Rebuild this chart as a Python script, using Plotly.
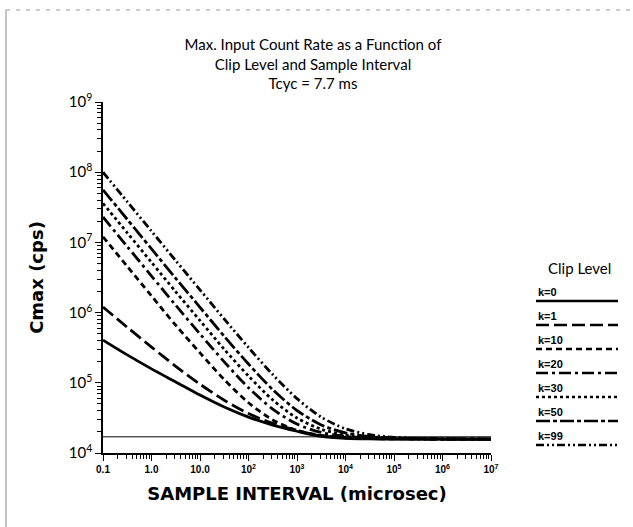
import plotly.graph_objects as go

# Sample interval (microsec)
sample_interval = [0.1, 0.316, 1.0, 3.16, 10.0, 31.6, 100.0, 316.0, 1000.0, 3162.0,
                   1.0e4, 3.162e4, 1.0e5, 1.0e6, 1.0e7]

# Cmax (cps) per clip level
k0 = [4.06e5, 2.5e5, 1.58e5, 1.03e5, 6.7e4, 4.52e4, 3.25e4, 2.5e4, 2.04e4, 1.72e4,
      1.62e4, 1.59e4, 1.58e4, 1.58e4, 1.58e4]
k1 = [1.2e6, 6.18e5, 3.23e5, 1.72e5, 9.56e4, 5.65e4, 3.65e4, 2.64e4, 2.1e4, 1.76e4,
      1.65e4, 1.61e4, 1.59e4, 1.58e4, 1.58e4]
k10 = [1.2e7, 4.56e6, 1.73e6, 6.6e5, 2.67e5, 1.11e5, 5.2e4, 2.96e4, 2.1e4, 1.78e4,
       1.66e4, 1.61e4, 1.59e4, 1.58e4, 1.58e4]
k20 = [2.3e7, 8.74e6, 3.32e6, 1.27e6, 4.96e5, 1.99e5, 8.5e4, 4.22e4, 2.58e4, 1.96e4,
       1.73e4, 1.64e4, 1.6e4, 1.58e4, 1.58e4]
k30 = [3.6e7, 1.37e7, 5.2e6, 1.98e6, 7.7e5, 3.0e5, 1.25e5, 5.7e4, 3.15e4, 2.18e4,
       1.81e4, 1.67e4, 1.61e4, 1.585e4, 1.58e4]
k50 = [5.6e7, 2.13e7, 8.09e6, 3.08e6, 1.19e6, 4.6e5, 1.85e5, 8.0e4, 4.03e4, 2.51e4,
       1.93e4, 1.71e4, 1.63e4, 1.59e4, 1.58e4]
k99 = [1.0e8, 3.8e7, 1.445e7, 5.5e6, 2.11e6, 8.1e5, 3.18e5, 1.31e5, 5.95e4, 3.24e4,
       2.21e4, 1.82e4, 1.67e4, 1.59e4, 1.58e4]

# thin reference line
ref_x = [0.1, 1.0e7]
ref_y = [1.7e4, 1.7e4]

labels = ["k=0", "k=1", "k=10", "k=20", "k=30", "k=50", "k=99"]
series = [k0, k1, k10, k20, k30, k50, k99]
dashes = ["solid", "13px,5px", "6px,4px", "12px,4px,3px,4px", "3px,3px",
          "14px,3px,4px,3px", "8px,3px,2px,3px,2px,3px"]

xtick_vals = [0.1, 1, 10, 100, 1e3, 1e4, 1e5, 1e6, 1e7]
xtick_text = ["<b>0.1</b>", "<b>1.0</b>", "<b>10.0</b>", "<b>10<sup>2</sup></b>",
              "<b>10<sup>3</sup></b>", "<b>10<sup>4</sup></b>", "<b>10<sup>5</sup></b>",
              "<b>10<sup>6</sup></b>", "<b>10<sup>7</sup></b>"]
ytick_vals = [1e4, 1e5, 1e6, 1e7, 1e8, 1e9]
ytick_text = ["10<sup>4</sup>", "10<sup>5</sup>", "10<sup>6</sup>", "10<sup>7</sup>",
              "10<sup>8</sup>", "10<sup>9</sup>"]
minor_x = [m * 10.0 ** e for e in range(-1, 7) for m in range(2, 10)]
minor_y = [m * 10.0 ** e for e in range(4, 9) for m in range(2, 10)]

L, R, T, B = 103, 142, 102, 74
PW, PH = 633 - L - R, 527 - T - B


def px(x):
    return (x - L) / PW


def py(y):
    return (527 - B - y) / PH


fig = go.Figure()
fig.add_trace(go.Scatter(x=ref_x, y=ref_y, mode="lines",
                         line=dict(color="black", width=1), showlegend=False))
for name, ys, d in zip(labels, series, dashes):
    fig.add_trace(go.Scatter(x=sample_interval, y=ys, mode="lines", name=name,
                             line=dict(color="black", width=2.8, dash=d, shape="spline",
                                       smoothing=0.8),
                             showlegend=False))

shapes = []
annotations = []
# custom legend
leg_top = 292
step = 24.0
for i, (name, d) in enumerate(zip(labels, dashes)):
    ty = leg_top + i * step
    ly = ty + 9
    annotations.append(dict(xref="paper", yref="paper", x=px(536), y=py(ty),
                            text="<b>" + name + "</b>", showarrow=False,
                            xanchor="left", yanchor="middle",
                            font=dict(family="Liberation Sans", size=11, color="black")))
    shapes.append(dict(type="line", xref="paper", yref="paper",
                       x0=px(536), x1=px(618), y0=py(ly), y1=py(ly),
                       line=dict(color="black", width=2.4, dash=d)))
annotations.append(dict(xref="paper", yref="paper", x=px(579), y=py(268),
                        text="Clip Level", showarrow=False,
                        xanchor="center", yanchor="middle",
                        font=dict(family="Lato", size=15, color="black")))

# page border remnants
shapes.append(dict(type="line", xref="paper", yref="paper",
                   x0=px(6), x1=px(6), y0=py(10), y1=py(527),
                   line=dict(color="#888", width=1)))
shapes.append(dict(type="line", xref="paper", yref="paper",
                   x0=px(6), x1=px(633), y0=py(10), y1=py(10),
                   line=dict(color="#999", width=1, dash="4px,6px")))

fig.update_layout(
    width=633, height=527,
    paper_bgcolor="white", plot_bgcolor="white",
    margin=dict(l=L, r=R, t=T, b=B, autoexpand=False),
    title=dict(text="Max. Input Count Rate as a Function of<br>Clip Level and Sample Interval"
                    "<br>Tcyc = 7.7 ms",
               x=313 / 633, xanchor="center", y=1 - 36 / 527, yanchor="top",
               font=dict(family="Lato", size=15, color="black")),
    shapes=shapes, annotations=annotations,
    xaxis=dict(type="log", range=[-1, 7], tickvals=xtick_vals, ticktext=xtick_text,
               automargin=False,
               showgrid=False, zeroline=False, showline=True, linecolor="black",
               linewidth=1.5, ticks="outside", ticklen=6, tickcolor="black",
               tickfont=dict(family="Liberation Sans", size=10, color="black"),
               minor=dict(tickmode="array", tickvals=minor_x, ticks="outside",
                          ticklen=4, tickcolor="black", showgrid=False),
               title=dict(text="<b>SAMPLE INTERVAL (microsec)</b>", standoff=14,
                          font=dict(family="DejaVu Sans", size=18, color="black"))),
    yaxis=dict(type="log", range=[4, 9], tickvals=ytick_vals, ticktext=ytick_text,
               automargin=False,
               showgrid=False, zeroline=False, showline=True, linecolor="black",
               linewidth=1.5, ticks="outside", ticklen=6, tickcolor="black",
               tickfont=dict(family="Lato", size=15, color="black"),
               minor=dict(tickmode="array", tickvals=minor_y, ticks="outside",
                          ticklen=4, tickcolor="black", showgrid=False),
               title=dict(text="<b>Cmax (cps)</b>", standoff=20,
                          font=dict(family="DejaVu Sans", size=18, color="black"))),
)
# title lines in the reference sit lower (first line centred near y=45)
fig.update_layout(title_y=1 - 50 / 527)

fig.write_html("out.html", post_script="document.body.style.margin='0px';",
               config={"displayModeBar": False})
